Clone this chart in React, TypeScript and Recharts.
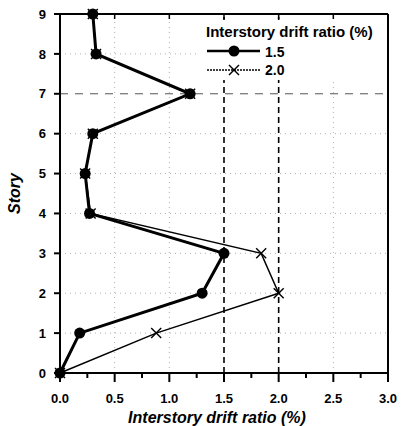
import { ScatterChart, Scatter, XAxis, YAxis, ReferenceLine } from 'recharts';

const stories = [0, 1, 2, 3, 4, 5, 6, 7, 8, 9];
const drift15 = [0.0, 0.18, 1.3, 1.5, 0.27, 0.23, 0.3, 1.19, 0.33, 0.3];
const drift20 = [0.0, 0.88, 2.0, 1.84, 0.28, 0.23, 0.3, 1.19, 0.33, 0.3];
const xTicks = [0, 0.25, 0.5, 0.75, 1, 1.25, 1.5, 1.75, 2, 2.25, 2.5, 2.75, 3];
const topTicks = [0, 0.5, 1, 1.5, 2, 2.5, 3];
const xGrid = [0.5, 1, 2.5];
const yGrid = [1, 2, 3, 4, 5, 6, 8];
const limitLines = [1.5, 2.0];

const data15 = stories.map((s, i) => ({ story: s, drift: drift15[i] }));
const data20 = stories.map((s, i) => ({ story: s, drift: drift20[i] }));

const font = '"Liberation Sans", Arial, sans-serif';

const Dot = (p: any) => <circle cx={p.cx} cy={p.cy} r={5.5} fill="#000" />;
const Cross = (p: any) => (
  <g stroke="#000" strokeWidth={1.4}>
    <line x1={p.cx - 5} y1={p.cy - 5} x2={p.cx + 5} y2={p.cy + 5} />
    <line x1={p.cx - 5} y1={p.cy + 5} x2={p.cx + 5} y2={p.cy - 5} />
  </g>
);
const Nothing = () => <g />;

const XTick = (p: any) => {
  const v = p.payload.value;
  const major = Math.abs(v * 2 - Math.round(v * 2)) < 1e-6;
  return (
    <g>
      <line x1={p.x} y1={p.y} x2={p.x} y2={p.y + (major ? 9 : 5)} stroke="#000" strokeWidth={2} />
      {major && (
        <text x={p.x} y={p.y + 30} textAnchor="middle" fontFamily={font} fontWeight="bold" fontSize={13} fill="#000">
          {v.toFixed(1)}
        </text>
      )}
    </g>
  );
};

// short inward tick on the top edge
const TopTick = (p: any) => (
  <line x1={p.x} y1={p.y} x2={p.x} y2={p.y + 5} stroke="#000" strokeWidth={1.5} />
);

export default function App() {
  return (
    <div style={{ position: 'absolute', left: 0, top: 0, width: 403, height: 426, background: '#fff', fontFamily: font }}>
      <ScatterChart width={403} height={426} margin={{ top: 13, right: 14, left: 0, bottom: 0 }}>
        <XAxis
          type="number"
          dataKey="drift"
          domain={[0, 3]}
          ticks={xTicks}
          interval={0}
          tickSize={0}
          tickMargin={0}
          tick={<XTick />}
          axisLine={{ stroke: '#000', strokeWidth: 2 }}
          height={53}
          label={{ value: 'Interstory drift ratio (%)', position: 'insideBottom', offset: 3, dx: -7, style: { fontFamily: font, fontWeight: 'bold', fontStyle: 'italic', fontSize: 16, fill: '#000' } }}
        />
        <XAxis
          xAxisId="top"
          orientation="top"
          type="number"
          dataKey="drift"
          domain={[0, 3]}
          ticks={topTicks}
          interval={0}
          tickSize={0}
          tickMargin={0}
          tick={<TopTick />}
          height={1}
          axisLine={{ stroke: '#000', strokeWidth: 2 }}
        />
        <YAxis
          type="number"
          dataKey="story"
          domain={[0, 9]}
          ticks={stories}
          interval={0}
          width={60}
          tickSize={6}
          tickMargin={8}
          tickLine={{ stroke: '#000', strokeWidth: 2 }}
          axisLine={{ stroke: '#000', strokeWidth: 2 }}
          tick={{ fontFamily: font, fontWeight: 'bold', fontSize: 13, fill: '#000' }}
          label={{ value: 'Story', angle: -90, position: 'insideLeft', offset: 14, style: { fontFamily: font, fontWeight: 'bold', fontStyle: 'italic', fontSize: 16, fill: '#000', textAnchor: 'middle' } }}
        />
        <YAxis
          yAxisId="right"
          orientation="right"
          type="number"
          dataKey="story"
          domain={[0, 9]}
          ticks={stories}
          tick={false}
          tickLine={false}
          width={1}
          axisLine={{ stroke: '#000', strokeWidth: 2 }}
        />
        {xGrid.map((v) => (
          <ReferenceLine key={'gx' + v} x={v} stroke="#b0b0b0" strokeDasharray="1 4" />
        ))}
        {yGrid.map((v) => (
          <ReferenceLine key={'gy' + v} y={v} stroke="#b0b0b0" strokeDasharray="1 4" />
        ))}
        <ReferenceLine y={7} stroke="#555" strokeDasharray="8 7" />
        {limitLines.map((v) => (
          <ReferenceLine key={'l' + v} x={v} stroke="#000" strokeWidth={1.6} strokeDasharray="6 4" />
        ))}
        <Scatter data={data15} xAxisId="top" yAxisId="right" shape={<Nothing />} isAnimationActive={false} />
        <Scatter data={data20} line={{ stroke: '#000', strokeWidth: 1.5 }} shape={<Cross />} isAnimationActive={false} />
        <Scatter data={data15} line={{ stroke: '#000', strokeWidth: 3 }} shape={<Dot />} isAnimationActive={false} />
      </ScatterChart>
      <div style={{ position: 'absolute', left: 200, top: 20, width: 186, height: 60, background: '#fff' }} />
      <div style={{ position: 'absolute', left: 206, top: 23, fontWeight: 'bold', fontSize: 15, color: '#000', whiteSpace: 'nowrap' }}>
        Interstory drift ratio (%)
      </div>
      <svg style={{ position: 'absolute', left: 206, top: 42 }} width={90} height={36}>
        <line x1={1} y1={9} x2={54} y2={9} stroke="#000" strokeWidth={2.5} />
        <circle cx={28} cy={9} r={5.5} fill="#000" />
        <line x1={1} y1={28} x2={54} y2={28} stroke="#000" strokeWidth={1.5} strokeDasharray="2 1" />
        <line x1={23} y1={23} x2={33} y2={33} stroke="#000" strokeWidth={1.4} />
        <line x1={23} y1={33} x2={33} y2={23} stroke="#000" strokeWidth={1.4} />
        <text x={59} y={15} fontFamily={font} fontWeight="bold" fontSize={14}>1.5</text>
        <text x={59} y={33} fontFamily={font} fontWeight="bold" fontSize={14}>2.0</text>
      </svg>
    </div>
  );
}
